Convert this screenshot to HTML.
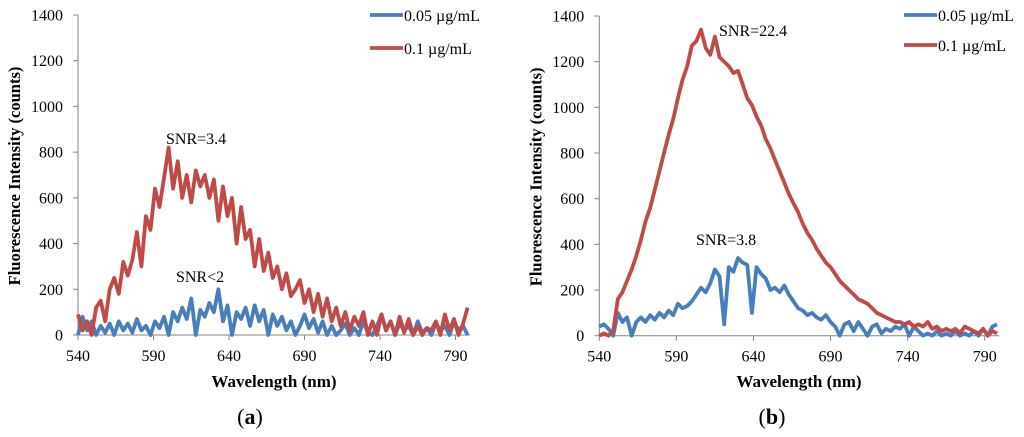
<!DOCTYPE html>
<html><head><meta charset="utf-8">
<style>
html,body{margin:0;padding:0;background:#fff;}
svg{display:block;font-family:"Liberation Serif",serif;}
</style></head>
<body>
<svg id="fig" width="1024" height="437" viewBox="0 0 1024 437"></svg>
<script>
const wlStart = 540, wlStep = 3;
const xTicks = [540, 590, 640, 690, 740, 790];
const yTicks = [0, 200, 400, 600, 800, 1000, 1200, 1400];
const seriesNames = ["0.05 µg/mL", "0.1 µg/mL"];
const aBlue = [0,80,20,60,0,40,10,50,0,60,20,50,10,70,20,40,0,60,30,80,0,100,60,120,70,160,0,110,80,140,100,200,60,130,0,100,70,120,40,130,60,110,0,90,40,80,20,60,0,40,90,30,70,10,60,0,40,0,20,50,0,30,0,60,10,0,40,90,20,60,0,50,20,40,0,60,10,30,0,50,20,40,0,60,20,40,0];
const aRed = [90,20,60,0,120,150,60,200,250,180,320,260,330,450,300,520,460,640,560,690,820,640,760,600,700,580,720,650,700,600,680,500,650,520,600,400,560,420,460,300,420,280,360,250,300,200,270,170,200,240,140,200,100,180,80,160,60,120,40,100,20,80,40,100,0,60,0,90,20,60,0,80,10,70,0,40,0,30,20,60,0,90,20,70,0,50,120];
const bBlue = [40,50,30,0,100,60,80,0,60,80,60,90,70,100,80,110,90,140,120,130,150,180,210,190,230,290,260,50,300,280,340,320,310,100,300,270,250,200,210,190,220,180,150,120,110,90,100,80,70,90,60,40,0,50,60,20,60,30,0,40,50,10,30,20,40,30,50,0,40,20,0,10,0,20,0,10,0,20,0,10,0,20,0,30,0,40,50];
const bRed = [0,10,0,20,160,190,240,290,350,420,500,560,640,720,800,880,950,1040,1120,1180,1270,1290,1340,1260,1230,1310,1220,1200,1180,1150,1160,1100,1040,1010,960,920,860,820,770,720,670,620,580,540,490,450,420,380,350,320,300,270,240,220,200,180,160,150,140,120,100,90,80,70,60,60,50,60,40,50,40,60,30,40,20,30,20,30,10,40,30,20,10,30,0,20,10];

const NS = "http://www.w3.org/2000/svg";
const svg = document.getElementById("fig");
function mk(tag, attrs, parent){
  const e = document.createElementNS(NS, tag);
  for (const k in attrs) e.setAttribute(k, attrs[k]);
  (parent||svg).appendChild(e);
  return e;
}
const panels = [
  {name:"panel-a", x0:78, x1:455.5, xmax:800, xEnd:470, y0:335, y1:15, blue:aBlue, red:aRed,
   legX:370, legY:[15,48], label:"(a)", labelX:250, titleX:274,
   ann:[["SNR=3.4",166,144,"snr-red-label"],["SNR<2",176,282,"snr-blue-label"]]},
  {name:"panel-b", x0:599.3, x1:984.7, xmax:800, xEnd:999, y0:335.7, y1:16, blue:bBlue, red:bRed,
   legX:904, legY:[15,45], label:"(b)", labelX:772, titleX:799,
   ann:[["SNR=22.4",719,36,"snr-red-label"],["SNR=3.8",696,245,"snr-blue-label"]]}
];
panels.forEach(p => {
  const g = mk("g", {});
  
  
  const xs = v => p.x0 + (v - 540) * (p.x1 - p.x0) / 250;
  const ys = v => p.y0 - v * (p.y0 - p.y1) / 1400;
  const ya = mk("line", {x1:p.x0, y1:p.y1, x2:p.x0, y2:p.y0, stroke:"#868686", "stroke-width":1}, g);
  
  
  const xa = mk("line", {x1:p.x0, y1:p.y0, x2:p.xEnd, y2:p.y0, stroke:"#868686", "stroke-width":1}, g);
  
  
  yTicks.forEach(t => {
    mk("line", {x1:p.x0-5, y1:ys(t), x2:p.x0, y2:ys(t), stroke:"#868686"}, g);
    const tx = mk("text", {x:p.x0-15, y:ys(t)+5.5, "text-anchor":"end", "font-size":16, fill:"#000"}, g);
    tx.textContent = t;
    
    
  });
  xTicks.forEach(t => {
    mk("line", {x1:xs(t), y1:p.y0, x2:xs(t), y2:p.y0+5, stroke:"#868686"}, g);
    const tx = mk("text", {x:xs(t), y:p.y0+26, "text-anchor":"middle", "font-size":16, fill:"#000"}, g);
    tx.textContent = t;
    
    
  });
  [[p.blue,"#4a7ebb","series-0-05"],[p.red,"#be4b48","series-0-1"]].forEach(([arr,col,nm]) => {
    const pts = arr.map((v,i) => {
      const w = Math.min(wlStart + i*wlStep, p.xmax);
      return xs(w).toFixed(1) + "," + ys(Math.max(0,v)).toFixed(1);
    }).join(" ");
    const pl = mk("polyline", {points:pts, fill:"none", stroke:col, "stroke-width":3.8, "stroke-linejoin":"round"}, g);
    
    
  });
  [["#4a7ebb",seriesNames[0]],["#be4b48",seriesNames[1]]].forEach(([col,txt],i) => {
    const le = mk("g", {}, g);
    
    
    mk("line", {x1:p.legX, y1:p.legY[i], x2:p.legX+33, y2:p.legY[i], stroke:col, "stroke-width":3.8}, le);
    const t = mk("text", {x:p.legX+34, y:p.legY[i]+6, "font-size":16, fill:"#000"}, le);
    t.textContent = txt;
  });
  p.ann.forEach(([txt,x,y,nm]) => {
    const t = mk("text", {x:x, y:y, "font-size":16, fill:"#000"}, g);
    t.textContent = txt;
    
    
  });
  const xt = mk("text", {x:p.titleX, y:387, "text-anchor":"middle", "font-size":17, "font-weight":"bold", fill:"#000"}, g);
  xt.textContent = "Wavelength (nm)";
  
  
  const yx = p.x0 - 58, yy = (p.y0 + p.y1)/2 + 1;
  const yt = mk("text", {x:yx, y:yy, "text-anchor":"middle", "font-size":16.5, "font-weight":"bold", fill:"#000", transform:`rotate(-90 ${yx} ${yy})`}, g);
  yt.textContent = "Fluorescence Intensity (counts)";
  
  
  const lb = mk("text", {x:p.labelX, y:424, "text-anchor":"middle", "font-size":22, fill:"#000"}, g);
  lb.innerHTML = "(<tspan font-weight='bold'>" + p.label.slice(1,2) + "</tspan>)";
  
  
});
</script>
</body></html>
